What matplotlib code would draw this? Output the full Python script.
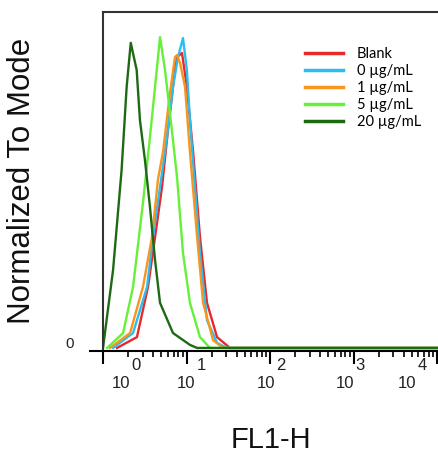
import numpy as np
import matplotlib
matplotlib.use("Agg")
import matplotlib.pyplot as plt
from matplotlib.transforms import ScaledTranslation, blended_transform_factory

# ---- data (FL1-H intensity, normalized-to-mode %) ----
labels = ["Blank", "0 \u00b5g/mL", "1 \u00b5g/mL", "5 \u00b5g/mL", "20 \u00b5g/mL"]
colors = ["#e8282b", "#2bbdf0", "#f7961e", "#66f03a", "#1e6a14"]

x_blank = [1.47, 2.55, 3.46, 4.2, 5.09, 6.0, 7.28, 7.7, 8.83, 10.1, 12.0, 14.5, 17.6, 23.2, 33.2, 10000]
y_blank = [0.9, 4.1, 18.9, 33.6, 48.4, 65.2, 82.9, 86.7, 87.9, 77.9, 58.7, 33.6, 14.2, 4.1, 0.9, 0.9]

x_0 = [1.32, 2.29, 3.37, 3.97, 4.82, 5.84, 6.89, 7.91, 9.08, 10.1, 11.0, 12.6, 14.5, 17.6, 23.2, 30.5, 10000]
y_0 = [0.9, 5.3, 18.9, 33.6, 48.4, 63.1, 77.9, 86.7, 92.3, 82.9, 68.1, 48.4, 28.9, 9.1, 2.4, 0.9, 0.9]

x_1 = [1.21, 2.11, 3.01, 3.86, 4.56, 5.23, 6.34, 7.28, 7.7, 8.36, 9.6, 11.0, 13.4, 15.8, 20.8, 27.4, 10000]
y_1 = [0.9, 5.3, 18.9, 33.6, 50.7, 58.7, 76.1, 86.7, 87.3, 85.0, 77.9, 58.7, 33.6, 14.2, 3.2, 0.9, 0.9]

x_5 = [1.12, 1.74, 2.29, 3.01, 3.65, 4.2, 4.82, 5.53, 6.34, 7.7, 9.08, 11.0, 14.5, 19.1, 10000]
y_5 = [0.9, 5.3, 18.9, 43.7, 63.1, 77.9, 92.6, 82.9, 70.2, 51.3, 28.9, 14.2, 4.1, 0.9, 0.9]

x_20 = [1.0, 1.32, 1.67, 1.92, 2.15, 2.53, 2.77, 3.18, 3.65, 4.2, 4.82, 6.89, 11.0, 13.4, 10000]
y_20 = [0.9, 23.9, 53.4, 77.9, 90.9, 82.9, 68.1, 56.3, 42.5, 26.8, 14.2, 5.3, 1.8, 0.9, 0.9]

series_x = [x_blank, x_0, x_1, x_5, x_20]
series_y = [y_blank, y_0, y_1, y_5, y_20]

decade_exponents = [0, 1, 2, 3, 4]
xlabel = "FL1-H"
ylabel = "Normalized To Mode"

# ---- figure ----
W, H = 438, 454
fig = plt.figure(figsize=(W / 100, H / 100), dpi=100)
ax = fig.add_axes([103 / W, (H - 351) / H, (440 - 103) / W, (351 - 12) / H])

plt.rcParams["font.family"] = ["Liberation Sans", "DejaVu Sans"]

for xs, ys, c, lab in zip(series_x, series_y, colors, labels):
    ax.plot(xs, ys, color=c, lw=1.7, label=lab, solid_joinstyle="round")

ax.set_xscale("log")
ax.set_xlim(1, 10 ** ((440 - 103) / 83.5))
ax.set_ylim(0, 100)

for s in ["top", "left"]:
    ax.spines[s].set_color("#333333")
    ax.spines[s].set_linewidth(1.5)
ax.spines["right"].set_visible(False)
ax.spines["bottom"].set_color("black")
ax.spines["bottom"].set_linewidth(1.5)

# ticks
ax.set_xticks([10.0 ** e for e in decade_exponents])
ax.set_xticklabels([])
ax.xaxis.set_minor_locator(matplotlib.ticker.LogLocator(base=10, subs=np.arange(2, 10)))
ax.xaxis.set_minor_formatter(matplotlib.ticker.NullFormatter())
ax.tick_params(axis="x", which="major", direction="out", length=9, width=1.5, color="black")
ax.tick_params(axis="x", which="minor", direction="out", length=4.5, width=1.2, color="black")
ax.set_yticks([0])
ax.set_yticklabels([])
ax.tick_params(axis="y", which="major", direction="out", length=10, width=1.5, color="black")

# custom decade labels (FlowJo style)
base_offsets_px = [18, 0, -4, -9, -30]
trans = blended_transform_factory(ax.transData, ax.transAxes)
for e, off in zip(decade_exponents, base_offsets_px):
    t_base = trans + ScaledTranslation(off / 100, -32 / 100, fig.dpi_scale_trans)
    ax.text(10.0 ** e, 0, "10", transform=t_base, ha="center", va="center",
            fontsize=12, color="#222222", family="Liberation Sans")
    t_sup = trans + ScaledTranslation((off + 15) / 100, -15 / 100, fig.dpi_scale_trans)
    ax.text(10.0 ** e, 0, str(e), transform=t_sup, ha="center", va="center",
            fontsize=12, color="#222222", family="Liberation Sans")

ax.text(0, 0, "0", transform=blended_transform_factory(ax.transAxes, ax.transData)
        + ScaledTranslation(-33 / 100, 7 / 100, fig.dpi_scale_trans),
        ha="center", va="center", fontsize=11, color="#222222", family="Liberation Sans")

fig.text(22 / W, 1 - 181 / H, ylabel, rotation=90, ha="center", va="center",
         fontsize=22.5, color="#111111", family="Liberation Sans")
fig.text(271 / W, 1 - 440 / H, xlabel, ha="center", va="center",
         fontsize=21, color="#111111", family="Liberation Sans")

leg = ax.legend(loc="upper left", bbox_to_anchor=((305 - 103) / 337, (351 - 47) / 339),
                frameon=False, borderpad=0, borderaxespad=0,
                handlelength=2.6, handletextpad=0.95, labelspacing=0.2,
                prop={"family": ["Lato", "DejaVu Sans"], "size": 10.5})
for line in leg.get_lines():
    line.set_linewidth(2.5)

fig.savefig("out.png", dpi=100)
